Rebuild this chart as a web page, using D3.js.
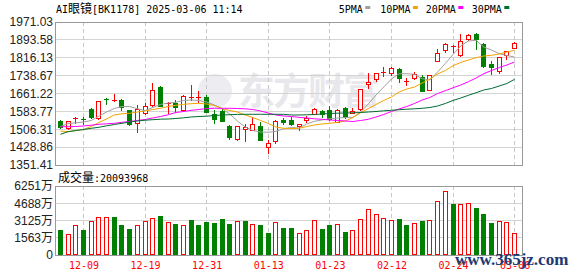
<!DOCTYPE html>
<html>
<head>
<meta charset="utf-8">
<script src="https://cdn.jsdelivr.net/npm/d3@7"></script>
<style>
  html, body { margin: 0; padding: 0; background: #fff; }
  svg { display: block; }
</style>
</head>
<body>
<div id="chart"></div>
<script>
// trading days shown in the window
const dates = [
  '12-04','12-05','12-06','12-09','12-10','12-11','12-12','12-13','12-16','12-17',
  '12-18','12-19','12-20','12-23','12-24','12-25','12-26','12-27','12-30','12-31',
  '01-02','01-03','01-06','01-07','01-08','01-09','01-10','01-13','01-14','01-15',
  '01-16','01-17','01-20','01-21','01-22','01-23','01-24','01-27','02-05','02-06',
  '02-07','02-10','02-11','02-12','02-13','02-14','02-17','02-18','02-19','02-20',
  '02-21','02-24','02-25','02-26','02-27','02-28','03-03','03-04','03-05','03-06'
];

const openPrices = [
  1542.1,1510.4,1549.4,1549.4,1595.4,1553.8,1637.4,1630.0,1633.0,1588.4,
  1532.0,1575.5,1610.0,1689.4,1614.4,1618.8,1588.4,1643.0,1642.0,1646.0,
  1572.4,1585.4,1520.4,1463.0,1507.4,1504.4,1520.4,1428.0,1456.7,1545.0,
  1546.4,1520.4,1545.0,1572.4,1584.0,1590.0,1539.0,1598.4,1578.0,1592.7,
  1701.0,1722.8,1752.0,1748.7,1766.0,1714.0,1727.0,1732.7,1676.4,1802.0,
  1848.4,1866.0,1826.7,1896.0,1920.3,1875.7,1790.3,1757.4,1826.7,1858.4
];
const highPrices = [
  1546.4,1544.0,1559.4,1560.7,1599.7,1628.0,1643.0,1659.0,1637.4,1590.0,
  1610.0,1618.8,1706.7,1692.4,1623.0,1633.0,1654.7,1698.0,1672.0,1654.7,
  1591.0,1597.0,1522.6,1521.0,1529.0,1559.4,1539.0,1459.7,1545.0,1556.4,
  1560.7,1530.5,1563.7,1599.7,1590.0,1608.4,1592.0,1602.7,1599.7,1681.0,
  1748.7,1750.0,1777.3,1774.7,1773.0,1728.4,1754.4,1742.7,1742.0,1854.0,
  1878.0,1871.4,1917.7,1919.0,1924.7,1880.0,1802.0,1821.5,1845.4,1883.0
];
const lowPrices = [
  1513.0,1507.0,1532.0,1529.0,1555.0,1552.0,1614.4,1630.0,1591.0,1526.0,
  1495.7,1572.5,1608.4,1607.0,1575.5,1582.0,1587.0,1633.0,1625.7,1581.0,
  1534.7,1542.0,1463.0,1461.0,1456.7,1503.0,1460.0,1405.0,1448.0,1527.7,
  1526.0,1503.0,1539.0,1571.0,1558.0,1548.5,1536.5,1555.0,1577.0,1591.0,
  1683.7,1716.7,1738.0,1741.4,1712.0,1699.4,1724.0,1670.0,1675.0,1800.0,
  1841.0,1839.0,1823.7,1893.0,1852.7,1776.0,1747.0,1751.3,1812.0,1857.0
];
const closePrices = [
  1517.4,1540.8,1553.8,1545.0,1559.4,1627.4,1634.4,1633.0,1601.4,1527.7,
  1595.4,1608.4,1675.0,1608.4,1621.4,1601.4,1649.0,1646.0,1644.0,1582.4,
  1552.0,1543.4,1471.4,1520.4,1517.4,1527.7,1461.0,1446.7,1540.8,1539.0,
  1527.0,1530.0,1553.8,1592.7,1572.4,1550.7,1590.0,1558.0,1586.7,1679.4,
  1711.0,1748.7,1754.4,1773.0,1727.0,1716.7,1747.0,1672.0,1740.0,1838.0,
  1875.7,1867.0,1887.4,1916.0,1898.7,1779.0,1776.0,1819.4,1844.0,1881.4
];
// volume in 万
const volumes = [
  2281,1916,2738,2281,3075,3468,3468,3468,2738,2373,
  2738,3075,3346,3559,2985,2829,2738,3194,2738,3011,
  2920,3285,2829,3075,3075,2800,2738,2007,2985,2464,
  2464,1977,2251,3130,2342,2738,2800,2099,2251,3255,
  4168,3712,3346,3164,3285,2738,2890,3100,3164,4899,
  5811,4654,4624,4715,4289,3680,2920,3075,2985,2009
];

// moving averages
const ma5 = [
  1517.4,1531.2,1534.3,1537.7,1544.2,1562.9,1581.1,1596.2,1604.9,1604.9,
  1594.9,1586.7,1600.6,1613.6,1620.1,1623.1,1630.9,1633.1,1630.9,1624.4,
  1611.4,1596.2,1572.4,1542.1,1516.1,1500.9,1494.4,1493.1,1497.4,1508.3,
  1513.9,1511.7,1529.1,1540.8,1546.4,1552.0,1555.1,1557.2,1558.1,1581.1,
  1615.7,1654.7,1689.4,1724.1,1747.0,1747.0,1744.4,1725.4,1719.7,1754.4,
  1791.2,1830.2,1867.0,1888.7,1891.7,1862.7,1849.7,1833.7,1825.9,1819.4
];
const ma10 = [
  1498.7,1495.7,1500.9,1505.2,1518.2,1535.6,1550.7,1568.1,1573.3,1575.4,
  1581.1,1585.4,1591.9,1597.1,1604.9,1610.1,1614.4,1617.0,1618.8,1615.7,
  1609.2,1596.2,1587.6,1581.1,1568.1,1557.2,1544.2,1531.2,1516.1,1510.4,
  1509.6,1510.4,1518.2,1524.7,1529.1,1532.1,1536.4,1542.1,1557.2,1578.0,
  1595.8,1613.6,1630.9,1646.1,1667.7,1680.7,1689.4,1706.7,1724.1,1745.7,
  1760.9,1781.7,1795.5,1806.4,1816.3,1823.7,1826.7,1832.4,1841.0,1848.4
];
const ma20 = [
  1517.4,1517.4,1518.2,1520.4,1523.9,1527.8,1529.9,1532.1,1536.4,1539.9,
  1544.2,1548.6,1555.1,1561.6,1568.9,1578.9,1583.2,1588.4,1591.9,1596.2,
  1597.1,1597.1,1597.1,1596.2,1594.9,1591.9,1585.4,1576.7,1568.1,1563.7,
  1561.6,1558.1,1555.1,1551.6,1549.4,1546.4,1544.2,1542.1,1539.9,1544.2,
  1549.4,1559.4,1570.2,1583.2,1594.1,1604.9,1617.9,1633.1,1643.9,1661.2,
  1673.4,1685.9,1698.1,1712.4,1728.4,1747.0,1760.9,1773.9,1784.7,1797.7
];
const ma30 = [
  1484.4,1495.7,1500.9,1505.2,1510.4,1514.8,1521.3,1526.9,1532.1,1537.7,
  1542.1,1545.5,1547.7,1549.9,1550.7,1552.9,1555.9,1559.4,1561.6,1562.9,
  1565.9,1568.1,1569.4,1570.7,1571.1,1571.1,1571.1,1571.1,1571.1,1571.1,
  1568.1,1568.1,1568.9,1570.2,1572.4,1574.6,1575.9,1576.7,1577.6,1578.9,
  1581.1,1583.2,1586.3,1588.4,1591.0,1593.2,1594.9,1597.1,1600.6,1607.1,
  1617.9,1630.9,1641.7,1653.4,1664.7,1676.4,1682.9,1693.7,1704.6,1722.8
];

const maNames = ['5PMA', '10PMA', '20PMA', '30PMA'];
const priceTicks = [1351.41, 1428.86, 1506.31, 1583.77, 1661.22, 1738.67, 1816.13, 1893.58, 1971.03];
const volumeTicks = [0, 1563, 3125, 4688, 6251];
const dateTicks = ['12-09', '12-19', '12-31', '01-13', '01-23', '02-12', '02-24', '03-06'];

const width = 578, height = 276;
const left = 55, right = 522;
const priceTop = 22, priceBottom = 165;
const volTop = 186, volBottom = 255;

const RED = '#ff0000', GREEN = '#008000';
const maColors = ['#a0a0a0', '#f4a300', '#ff00ff', '#006c30'];
const monoFont = '"DejaVu Sans Mono", "Noto Sans CJK SC", monospace';
const cjkFont = '"Noto Sans CJK SC", sans-serif';

const svg = d3.select('#chart').append('svg')
  .attr('width', width)
  .attr('height', height)
  .attr('viewBox', [0, 0, width, height]);

svg.append('rect').attr('width', width).attr('height', height).attr('fill', '#fff');

const x = d3.scalePoint().domain(dates).range([59.9, 514.1]);
const yPrice = d3.scaleLinear().domain([1351.41, 1971.03]).range([priceBottom, priceTop]);
const yVol = d3.scaleLinear().domain([0, 6251]).range([volBottom, volTop]);

const crisp = v => Math.floor(v) + 0.5;
const cx = d => Math.round(x(d));

// watermark
const wm = svg.append('g');
wm.append('circle').attr('cx', 215).attr('cy', 91).attr('r', 17).attr('fill', '#ededf1');
wm.append('text')
  .attr('x', 238).attr('y', 105)
  .attr('font-family', cjkFont).attr('font-size', 37).attr('font-weight', 700)
  .attr('letter-spacing', -2)
  .attr('fill', '#e8e8ec')
  .text('东方财富');

// grids
function drawGrid(scale, ticks, top, bottom) {
  const g = svg.append('g');
  g.selectAll('line.h')
    .data(ticks)
    .join('line')
    .attr('x1', left).attr('x2', right)
    .attr('y1', d => crisp(scale(d))).attr('y2', d => crisp(scale(d)))
    .attr('stroke', '#d4d4d4');
  g.selectAll('line.v')
    .data(dateTicks)
    .join('line')
    .attr('x1', d => cx(d) + 0.5).attr('x2', d => cx(d) + 0.5)
    .attr('y1', top).attr('y2', bottom)
    .attr('stroke', '#c8c8c8')
    .attr('stroke-dasharray', '4,3');
  g.append('rect')
    .attr('x', left + 0.5).attr('y', top + 0.5)
    .attr('width', right - left).attr('height', bottom - top)
    .attr('fill', 'none').attr('stroke', '#999');
}
drawGrid(yPrice, priceTicks, priceTop, priceBottom);
drawGrid(yVol, volumeTicks, volTop, volBottom);

const candles = dates.map((d, i) => ({
  date: d,
  open: openPrices[i], high: highPrices[i], low: lowPrices[i], close: closePrices[i],
  volume: volumes[i],
  up: closePrices[i] > openPrices[i] ||
      (closePrices[i] === openPrices[i] && i > 0 && closePrices[i] >= closePrices[i - 1]),
  volUp: i > 0 ? closePrices[i] >= closePrices[i - 1] : closePrices[i] > openPrices[i]
}));

// candles
const cg = svg.append('g');
cg.selectAll('line')
  .data(candles)
  .join('line')
  .attr('x1', d => cx(d.date) + 0.5).attr('x2', d => cx(d.date) + 0.5)
  .attr('y1', d => Math.round(yPrice(d.high))).attr('y2', d => Math.round(yPrice(d.low)) + 1)
  .attr('stroke', d => d.up ? RED : GREEN);

cg.selectAll('rect')
  .data(candles)
  .join('rect')
  .each(function(d) {
    const top = Math.round(yPrice(Math.max(d.open, d.close)));
    const bot = Math.round(yPrice(Math.min(d.open, d.close)));
    const c = cx(d.date);
    const r = d3.select(this);
    if (bot - top < 2) {
      r.attr('x', c - 2).attr('y', top).attr('width', 5).attr('height', Math.max(1, bot - top))
        .attr('fill', d.up ? RED : GREEN);
    } else if (d.up) {
      r.attr('x', c - 1.5).attr('y', top + 0.5).attr('width', 4).attr('height', bot - top)
        .attr('fill', '#fff').attr('stroke', RED);
    } else {
      r.attr('x', c - 2).attr('y', top).attr('width', 5).attr('height', bot - top + 1)
        .attr('fill', GREEN);
    }
  });

// moving averages
const maSeries = [ma5, ma10, ma20, ma30];
const line = d3.line()
  .x((v, i) => x(dates[i]) + 0.5)
  .y(v => yPrice(v));
svg.append('g')
  .selectAll('path')
  .data(maSeries)
  .join('path')
  .attr('d', d => line(d))
  .attr('fill', 'none')
  .attr('stroke', (d, i) => maColors[i])
  .attr('stroke-width', 1);

// volume bars
svg.append('g')
  .selectAll('rect')
  .data(candles)
  .join('rect')
  .each(function(d) {
    const top = Math.round(yVol(d.volume));
    const c = cx(d.date);
    const r = d3.select(this);
    if (d.volUp) {
      r.attr('x', c - 1.5).attr('y', top + 0.5).attr('width', 4).attr('height', volBottom - top - 1)
        .attr('fill', '#fff').attr('stroke', RED);
    } else {
      r.attr('x', c - 2).attr('y', top).attr('width', 5).attr('height', volBottom - top)
        .attr('fill', GREEN);
    }
  });

// axes
const priceAxis = d3.axisLeft(yPrice)
  .tickValues(priceTicks).tickSize(0).tickPadding(2)
  .tickFormat(d3.format('.2f'));
svg.append('g')
  .attr('transform', `translate(${left},0)`)
  .call(priceAxis)
  .call(g => g.select('.domain').remove())
  .attr('font-family', '"Liberation Sans", Arial, sans-serif')
  .attr('font-size', 12)
  .selectAll('text').attr('fill', '#222');

const volAxis = d3.axisLeft(yVol)
  .tickValues(volumeTicks).tickSize(0).tickPadding(2)
  .tickFormat(d => d === 0 ? '0' : d + '万');
svg.append('g')
  .attr('transform', `translate(${left},0)`)
  .call(volAxis)
  .call(g => g.select('.domain').remove())
  .attr('font-family', '"Liberation Sans", Arial, "Noto Sans CJK SC", sans-serif')
  .attr('font-size', 12)
  .selectAll('text').attr('fill', '#222');

const dateAxis = d3.axisBottom(x)
  .tickValues(dateTicks).tickSize(0).tickPadding(7);
svg.append('g')
  .attr('transform', `translate(0.5,${volBottom})`)
  .call(dateAxis)
  .call(g => g.select('.domain').remove())
  .attr('font-family', monoFont)
  .attr('font-size', 10)
  .selectAll('text').attr('fill', RED);

// title
const title = svg.append('text')
  .attr('x', 56).attr('y', 12.5)
  .attr('font-family', monoFont).attr('font-size', 10).attr('fill', '#000');
title.append('tspan').text('AI');
title.append('tspan').attr('font-family', cjkFont).attr('font-size', 12).text('眼镜');
title.append('tspan').text('[BK1178] 2025-03-06 11:14');

// legend
const legendX = [338.7, 380.3, 425.7, 471.7];
const legend = svg.append('g');
maNames.forEach((name, i) => {
  legend.append('text')
    .attr('x', legendX[i]).attr('y', 12.5)
    .attr('font-family', monoFont).attr('font-size', 10).attr('fill', '#000')
    .text(name);
  legend.append('rect')
    .attr('x', legendX[i] + name.length * 6.02 + 2.5).attr('y', 6)
    .attr('width', 5).attr('height', 3)
    .attr('fill', maColors[i]);
});

// volume caption
const vcap = svg.append('text')
  .attr('x', 58).attr('y', 181.5)
  .attr('font-family', monoFont).attr('font-size', 10).attr('fill', '#000');
vcap.append('tspan').attr('font-family', cjkFont).attr('font-size', 12).text('成交量');
vcap.append('tspan').text(':20093968');

// site watermark
svg.append('text')
  .attr('x', 455).attr('y', 265)
  .attr('font-family', '"Liberation Serif", "DejaVu Serif", serif')
  .attr('font-size', 17).attr('font-weight', 700)
  .attr('fill', '#1d3a73')
  .text('www.365jz.com');
</script>
</body>
</html>
